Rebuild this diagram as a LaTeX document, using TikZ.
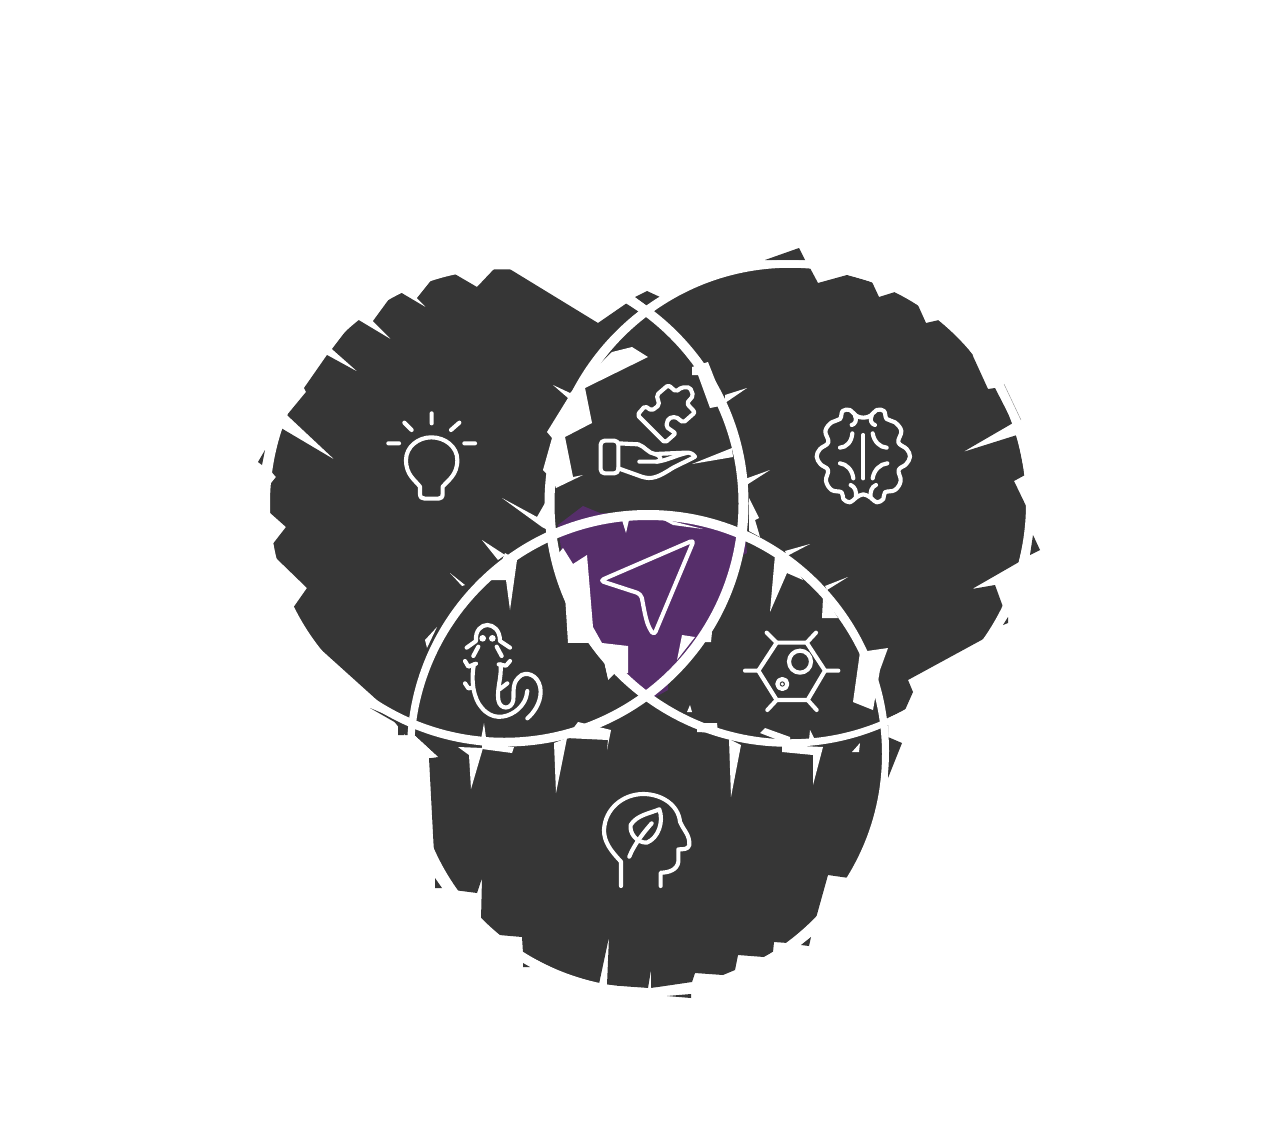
\documentclass[tikz,border=0pt]{standalone}
\definecolor{dk}{RGB}{54,54,54}
\definecolor{plum}{RGB}{86,46,106}
\tikzset{
  blob/.style={fill=dk},
  cut/.style={fill=white},
  violet area/.style={fill=plum},
  icon/.style={draw=white,line width=3.1pt,line cap=round,line join=round},
  ring/.style={fill=white,even odd rule},
  zoomat/.style 2 args={shift={(#1,#2)},x=.25pt,y=-.25pt}
}
\begin{document}
\begin{tikzpicture}[x=.75pt,y=-.75pt]
\useasboundingbox[fill=white] (0,0) rectangle (1272,1128);
% left blob
\fill[blob] (495,268)--(477,287)--(453,273)--(433,278)--(417,298)--(427,308)--(400,292)--(392,295)--(373,321)--(392,340)--(357,319)--(348,328)--(332,349)--(358,372)--(327,355)--(304,388)--(306,392)--(287,415)--(335,460)--(281,428)--(273,447)--(270,470)--(276,477)--(268,487)--(268,511)--(286,527)--(272,545)--(275,557)--(307,588)--(293,608)--(316,645)--(377,700)--(405,735)--(440,738)--(505,746)--(580,730)--(650,700)--(748,520)--(650,312)--(627,303)--(598,323)--(508,268)--cycle;
% right blob
\fill[blob] (650,310)--(686,289)--(726,274)--(767,267)--(810,268)--(818,283)--(847,275)--(872,282)--(879,297)--(895,292)--(917,303)--(926,323)--(939,320)--(962,340)--(973,355)--(946,363)--(972,354)--(988,389)--(995,388)--(1013,423)--(963,452)--(1017,435)--(1025,475)--(1014,481)--(1027,508)--(1025,535)--(1019,562)--(972,589)--(995,585)--(1003,607)--(987,637)--(908,680)--(913,692)--(905,710)--(888,718)--(810,745)--(700,725)--(650,700)--cycle;
% bottom blob
\fill[blob] (429,758)--(434,853)--(443,868)--(454,890)--(477,893)--(482,878)--(481,920)--(499,935)--(522,937)--(523,953)--(560,972)--(599,984)--(609,937)--(607,985)--(648,988)--(651,970)--(651,988)--(692,982)--(695,973)--(723,975)--(735,970)--(738,955)--(764,957)--(773,952)--(774,942)--(788,943)--(816,918)--(828,875)--(849,878)--(870,833)--(884,780)--(888,750)--(888,718)--(700,700)--(650,695)--(505,735)--(412,733)--(438,757)--cycle;
% small dark pieces beyond the rings
\fill[blob] (635,297)--(647,291)--(660,297)--(647,306)--cycle;
\fill[blob] (765,260)--(799,248)--(805,260)--cycle;
\fill[blob] (258,462)--(265,450)--(262,465)--cycle;
\fill[blob] (370,708)--(403,722)--(404,735)--(398,735)--(398,724)--cycle;
\fill[blob] (435,878)--(442,888)--(435,888)--cycle;
\fill[blob] (523,963)--(530,967)--(523,967)--cycle;
\fill[blob] (667,996)--(691,994)--(691,998)--cycle;
\fill[blob] (801,945)--(811,937)--(809,946)--cycle;
\fill[blob] (888,737)--(902,743)--(888,778)--cycle;
\fill[blob] (1033,535)--(1040,550)--(1030,555)--cycle;
\fill[blob] (1008,617)--(1003,625)--(1008,623)--cycle;
\draw[dk!55,line width=.3pt] (1004,384)--(1021,420);
% white cuts: lens and left
\fill[cut] (612,352)--(632,347)--(648,357)--(585,388)--(592,423)--(565,437)--(573,477)--(583,475)--(556,488)--(553,480)--(543,470)--(552,438)--(547,432)--(568,398)--(553,385)--(570,393)--cycle;
\fill[cut] (502,498)--(537,517)--(545,503)--(552,510)--(548,530)--(542,527)--cycle;
\fill[cut] (482,540)--(505,555)--(498,560)--cycle;
\fill[cut] (450,573)--(465,585)--(462,586)--cycle;
\fill[cut] (505,553)--(517,560)--(510,610)--(506,580)--(490,580)--(500,565)--cycle;
\fill[cut] (425,640)--(437,627)--(427,648)--cycle;
% lens right
\fill[cut] (692,367)--(708,362)--(725,405)--(710,408)--(698,375)--(692,375)--cycle;
\fill[cut] (747,388)--(725,395)--(725,403)--cycle;
\fill[cut] (732,448)--(733,457)--(692,464)--cycle;
\fill[cut] (770,470)--(745,479)--(745,486)--cycle;
\fill[cut] (749,498)--(759,518)--(755,520)--(760,537)--(749,531)--cycle;
% right blob wedges
\fill[cut] (810,544)--(785,551)--(787,556)--cycle;
\fill[cut] (848,577)--(825,586)--(827,590)--cycle;
\fill[cut] (775,555)--(790,560)--(803,580)--(787,573)--(770,612)--cycle;
\fill[cut] (823,598)--(833,610)--(838,618)--(822,618)--cycle;
\fill[cut] (860,652)--(888,648)--(880,670)--(873,710)--(853,702)--cycle;
\fill[cut] (690,705)--(692,712)--(687,712)--cycle;
% bottom blob wedges
\fill[cut] (412,733)--(438,757)--(429,758)--cycle;
\fill[cut] (458,747)--(483,748)--(471,789)--(469,755)--cycle;
\fill[cut] (482,743)--(514,747)--(512,753)--(482,749)--cycle;
\fill[cut] (554,743)--(567,738)--(556,793)--cycle;
\fill[cut] (578,722)--(611,730)--(607,750)--(608,740)--(566,738)--cycle;
\fill[cut] (729,739)--(741,745)--(731,797)--cycle;
\fill[cut] (782,745)--(823,747)--(813,785)--(813,755)--(782,752)--cycle;
\fill[cut] (860,743)--(852,752)--(859,752)--cycle;
\fill[cut] (697,723)--(717,723)--(718,733)--(697,732)--cycle;
\fill[cut] (760,733)--(765,728)--(790,737)--(791,745)--cycle;
\fill[cut] (480,745)--(484,723)--(487,745)--cycle;
\fill[cut] (810,730)--(815,740)--(809,740)--cycle;
% violet core
\fill[violet area] (558,525)--(583,506)--(600,513)--(620,514)--(650,512)--(700,518)--(745,533)--(747,553)--(741,556)--(732,580)--(720,600)--(705,630)--(685,660)--(668,682)--(668,690)--(650,700)--(610,670)--(570,620)--cycle;
\fill[cut] (563,548)--(573,564)--(587,555)--(593,627)--(602,643)--(628,646)--(628,673)--(615,673)--(608,680)--(603,658)--(590,643)--(568,643)--(565,595)--(553,560)--cycle;
\fill[blob] (568,643)--(590,643)--(603,658)--(608,680)--(640,700)--(580,670)--cycle;
\fill[cut] (622,520)--(629,520)--(626,533)--cycle;
\fill[cut] (660,518)--(703,529)--(673,525)--cycle;
\fill[cut] (682,635)--(695,637)--(677,660)--cycle;
\fill[cut] (698,637)--(712,632)--(711,642)--(700,642)--cycle;
% rings
\fill[ring] (505.5,503.5) circle [radius=243] (504.25,503.5) circle [radius=234.25];
\fill[ring] (787.75,503.5) circle [radius=243.25] (790.25,503.5) circle [radius=235.75];
\fill[ring] (648,751) circle [radius=241] (648,754) circle [radius=234];
% bulb
\begin{scope}[zoomat={370}{400}]
\draw[icon] (185,40)--(185,70) (103,68)--(125,90) (268,68)--(243,90) (55,130)--(87,130) (283,130)--(315,130);
\draw[icon] (150,260) .. controls (135,240) and (108,225) .. (108,180) .. controls (108,140) and (145,112) .. (184,112) .. controls (225,112) and (262,140) .. (262,180) .. controls (262,225) and (235,240) .. (218,260) -- (218,282) .. controls (218,292) and (212,296) .. (205,296) -- (165,296) .. controls (156,296) and (150,292) .. (150,282) -- cycle;
\end{scope}
% brain
\begin{scope}[zoomat={800}{395}]
\draw[icon] plot[smooth cycle,tension=.65] coordinates {(190,68)(168,62)(150,45)(128,48)(120,72)(95,82)(76,108)(85,142)(60,162)(50,185)(62,208)(84,225)(78,258)(95,285)(125,292)(130,312)(150,322)(168,308)(190,298)(212,308)(230,322)(250,312)(255,292)(285,285)(302,258)(296,225)(318,208)(330,185)(320,162)(295,142)(304,108)(285,82)(260,72)(252,48)(230,45)(212,62)};
\draw[icon] (190,120)--(190,250);
\draw[icon] (165,62) .. controls (172,75) and (165,88) .. (155,90);
\draw[icon] (215,62) .. controls (208,75) and (215,88) .. (225,90);
\draw[icon] (157,115) .. controls (155,140) and (140,157) .. (120,158);
\draw[icon] (218,115) .. controls (222,140) and (240,157) .. (260,158);
\draw[icon] (120,205) .. controls (140,207) and (157,225) .. (160,250);
\draw[icon] (262,205) .. controls (240,207) and (222,225) .. (218,250);
\draw[icon] (152,270) .. controls (165,275) and (170,290) .. (168,306);
\draw[icon] (228,270) .. controls (215,275) and (210,290) .. (212,306);
\end{scope}
% hand and puzzle piece
\begin{scope}[zoomat={530}{280}]
\draw[icon,rounded corners=1.5pt] (322,405)--(345,378)--(365,392)--(388,375)--(380,345)--(415,315)--(438,335)--(455,322)--(480,322)--(490,347)--(470,370)--(495,397)--(460,428)--(437,410)--(415,415)--(408,440)--(437,460)--(405,488)--cycle;
\draw[icon,rounded corners=3pt] (212,482) rectangle (265,580);
\draw[icon] (265,490)--(325,493) .. controls (345,500) and (355,520) .. (375,522) -- (465,518) .. controls (480,516) and (490,522) .. (495,530) .. controls (470,545) and (440,555) .. (415,572) .. controls (385,590) and (365,600) .. (335,590) -- (265,565);
\draw[icon] (375,522) .. controls (395,528) and (398,545) .. (380,545) -- (328,545);
\draw[icon] (380,545) .. controls (410,542) and (440,525) .. (470,519);
\end{scope}
% paper plane
\begin{scope}[zoomat={530}{490}]
\draw[icon,rounded corners=3pt] (210,272)--(492,150)--(372,436)--(358,415) .. controls (345,380) and (340,345) .. (333,312) -- cycle;
\end{scope}
% lizard
\begin{scope}[zoomat={450}{615}]
\draw[icon] (50,98)--(78,78) .. controls (75,45) and (95,30) .. (112,30) .. controls (130,30) and (150,45) .. (150,78) -- (180,98);
\fill[white] (98,70) circle [radius=10] (127,70) circle [radius=10];
\draw[icon] (70,123)--(85,95) (155,123)--(140,95);
\draw[icon] (45,138)--(55,155)--(78,146) (180,138)--(168,152)--(146,148);
\draw[icon] (72,148) .. controls (62,195) and (70,250) .. (95,278) .. controls (125,315) and (165,310) .. (195,290) .. controls (220,272) and (230,250) .. (232,228);
\draw[icon] (152,148) .. controls (155,190) and (140,220) .. (145,255) .. controls (150,285) and (185,285) .. (190,255) .. controls (192,225) and (185,200) .. (215,180) .. controls (240,168) and (272,190) .. (272,230) .. controls (272,265) and (250,295) .. (232,310);
\draw[icon] (45,205)--(55,220)--(68,218) (150,222)--(172,205);
\end{scope}
% cell
\begin{scope}[zoomat={735}{620}]
\draw[icon] (125,68)--(215,68)--(270,152)--(218,240)--(125,240)--(70,152)--cycle;
\draw[icon] (125,68)--(95,38) (215,68)--(243,38) (270,152)--(310,152) (218,240)--(245,270) (125,240)--(97,270) (70,152)--(30,152);
\draw[icon] (195,125) circle [radius=33];
\draw[icon] (142,192) circle [radius=15];
\fill[white] (142,192) circle [radius=5];
\end{scope}
% head with leaf
\begin{scope}[zoomat={590}{780}]
\draw[icon] (93,318)--(93,245) .. controls (60,210) and (42,185) .. (42,150) .. controls (45,85) and (100,42) .. (160,42) .. controls (215,42) and (265,75) .. (270,125) .. controls (280,150) and (300,165) .. (298,195) .. controls (295,208) and (280,208) .. (265,208) -- (265,245) .. controls (262,270) and (235,278) .. (212,278) -- (212,318);
\draw[icon] (208,88) .. controls (180,100) and (140,105) .. (122,135) .. controls (118,160) and (140,188) .. (170,188) .. controls (205,175) and (222,125) .. (208,88) -- cycle;
\draw[icon] (118,230) .. controls (130,200) and (150,170) .. (185,130);
\end{scope}
\end{tikzpicture}
\end{document}
